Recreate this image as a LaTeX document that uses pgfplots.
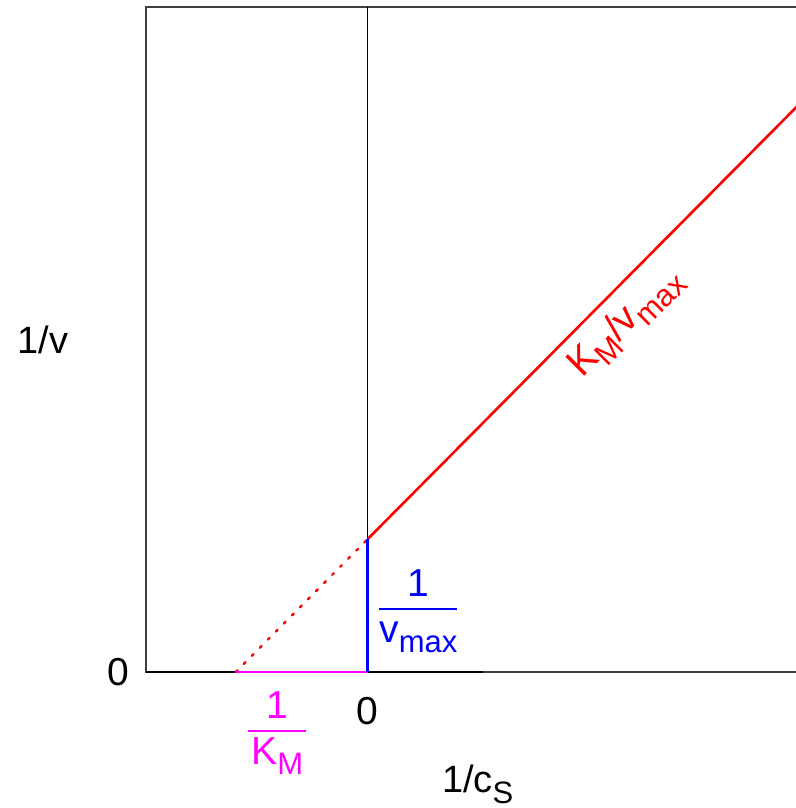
\documentclass[border=0pt]{standalone}
\usepackage{pgfplots}
\pgfplotsset{compat=1.18}
\usepackage{fontspec}
\setmainfont{Liberation Sans}
\definecolor{boxgray}{RGB}{64,64,64}
\definecolor{mag}{RGB}{255,0,255}
\definecolor{blu}{RGB}{0,0,255}
\definecolor{rd}{RGB}{255,0,0}
\newcommand{\sub}[1]{\raisebox{-5pt}{\fontsize{15.5}{16}\selectfont #1}}
\newcommand{\fracstack}[4]{\vbox{\halign{\hfil\kern#3##\kern#3\hfil\cr #1\cr\noalign{\kern 5.5pt\hrule height 1.1pt\kern #4}#2\cr}}}
\begin{document}
\fontsize{19}{22}\selectfont
\begin{tikzpicture}
\useasboundingbox (0,0) rectangle (398pt,404pt);
\clip (0,0) rectangle (398pt,404pt);
\begin{axis}[
  at={(73pt,68pt)}, anchor=south west,
  scale only axis, width=328.68pt, height=332.5pt,
  xmin=-1.68, xmax=3.3, ymin=0, ymax=5,
  axis line style={boxgray, line width=1pt},
  xtick={0}, ytick={0},
  major tick length=0pt,
  tick label style={font=\fontsize{19.5}{22}\selectfont},
  /pgf/number format/assume math mode=true,
  xticklabel style={yshift=-6pt},
  yticklabel style={xshift=-2pt},
  clip=false,
]
% axis lines through origin
\addplot[black, line width=1pt] coordinates {(-1.68,0) (0.87,0)};
\addplot[black, line width=0.5pt] coordinates {(0,0) (0,5)};
% Lineweaver-Burk line
\addplot[rd, line width=1.3pt] coordinates {(0,1) (3.3,4.3)};
\addplot[rd, line width=1.2pt, dash pattern=on 1.2pt off 4.5pt, line cap=round] coordinates {(-1,0) (0,1)};
\addplot[mag, line width=1.4pt] coordinates {(-1,0) (0,0)};
\addplot[blu, line width=1.3pt] coordinates {(0,0) (0,1)};
% labels
\node[rd, rotate=45, anchor=north, inner sep=0pt, font=\fontsize{19.5}{22}\selectfont] at (axis cs:1.85,2.73) {K\sub{M}/v\sub{max}};
\node[blu, anchor=center, font=\fontsize{19.5}{22}\selectfont] at (axis cs:0.383,0.455) {\fracstack{1}{v\sub{max}}{0pt}{6pt}};
\node[mag, anchor=center, font=\fontsize{19.5}{22}\selectfont] at (axis cs:-0.686,-0.462) {\fracstack{1}{K\sub{M}}{1.6pt}{3pt}};
\node at (axis cs:0.833,-0.845) {1/c\raisebox{-5.5pt}{\fontsize{15.5}{16}\selectfont S}};
\node at (axis cs:-2.462,2.496) {1/v};
\end{axis}
\end{tikzpicture}
\end{document}
